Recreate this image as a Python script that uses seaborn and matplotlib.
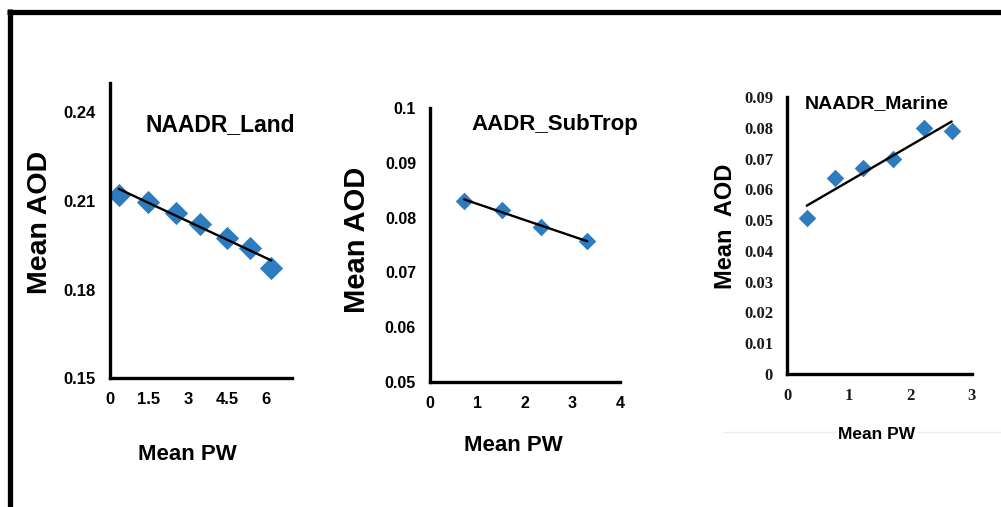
import numpy as np
import pandas as pd
import seaborn as sns
import matplotlib.pyplot as plt
from matplotlib.lines import Line2D

# ---- data ----
land_pw = [0.34, 1.48, 2.55, 3.46, 4.49, 5.40, 6.20]
land_aod = [0.2122, 0.2098, 0.2061, 0.2023, 0.1976, 0.1942, 0.1874]

sub_pw = [0.72, 1.52, 2.34, 3.31]
sub_aod = [0.0831, 0.0814, 0.0783, 0.0757]

mar_pw = [0.32, 0.78, 1.23, 1.72, 2.22, 2.67]
mar_aod = [0.0507, 0.0636, 0.0669, 0.0698, 0.0799, 0.0789]

titles = ["NAADR_Land", "AADR_SubTrop", "NAADR_Marine"]
land_xticks = [0, 1.5, 3, 4.5, 6]
land_xticklabels = ["0", "1.5", "3", "4.5", "6"]
land_yticks = [0.15, 0.18, 0.21, 0.24]
sub_xticks = [0, 1, 2, 3, 4]
sub_yticks = [0.05, 0.06, 0.07, 0.08, 0.09, 0.1]
sub_yticklabels = ["0.05", "0.06", "0.07", "0.08", "0.09", "0.1"]
mar_xticks = [0, 1, 2, 3]
mar_yticks = [0, 0.01, 0.02, 0.03, 0.04, 0.05, 0.06, 0.07, 0.08, 0.09]
mar_yticklabels = ["0", "0.01", "0.02", "0.03", "0.04", "0.05", "0.06", "0.07", "0.08", "0.09"]

sns.set_style("white")
SANS = ["Liberation Sans", "DejaVu Sans"]
SERIF = ["Liberation Serif", "DejaVu Serif"]
plt.rcParams["font.family"] = SANS
plt.rcParams["text.color"] = "black"
plt.rcParams["axes.labelcolor"] = "black"
plt.rcParams["xtick.color"] = "black"
plt.rcParams["ytick.color"] = "black"

BLUE = "#2E7CC0"
W, H = 1001, 507
fig = plt.figure(figsize=(W / 100, H / 100), dpi=100)


def add_ax(left, top, right, bottom):
    return fig.add_axes([left / W, 1 - bottom / H, (right - left) / W, (bottom - top) / H])


def style_ax(ax, tick_family, tick_size, tick_color="black"):
    for s in ["top", "right"]:
        ax.spines[s].set_visible(False)
    for s in ["left", "bottom"]:
        ax.spines[s].set_linewidth(2.4)
        ax.spines[s].set_color("black")
    ax.tick_params(axis="both", direction="out", length=4, width=2, color="black",
                   labelsize=tick_size, pad=6)
    for lab in ax.get_xticklabels() + ax.get_yticklabels():
        lab.set_family(tick_family)
        lab.set_fontweight("bold")
        lab.set_color(tick_color)


def draw(ax, x, y, s):
    df = pd.DataFrame({"pw": x, "aod": y})
    sns.regplot(data=df, x="pw", y="aod", ax=ax, ci=None, marker="D",
                scatter_kws=dict(s=s, color=BLUE, linewidths=0, zorder=2, alpha=1),
                line_kws=dict(color="black", lw=1.7, zorder=3))


WHITE_BOX = dict(facecolor="white", edgecolor="none", pad=1)

# ---- panel 1 ----
ax1 = add_ax(110, 83, 292, 378)
draw(ax1, land_pw, land_aod, 140)
ax1.set_xlim(0, 7)
ax1.set_ylim(0.15, 0.25)
ax1.set_xticks(land_xticks)
ax1.set_xticklabels(land_xticklabels)
ax1.set_yticks(land_yticks)
ax1.set_yticklabels([f"{v:.2f}" for v in land_yticks])
style_ax(ax1, SANS, 12)
ax1.set_xlabel("Mean PW", fontsize=16, fontweight="bold", va="center")
ax1.xaxis.set_label_coords(0.423, -0.261)
ax1.set_ylabel("Mean AOD", fontsize=20.5, fontweight="bold", va="center")
ax1.yaxis.set_label_coords(-0.385, 0.529)
ax1.text(0.604, 0.858, titles[0], transform=ax1.transAxes, ha="center", va="center",
         fontsize=16.5, fontweight="bold")

# ---- panel 2 ----
ax2 = add_ax(430, 108, 620, 382)
draw(ax2, sub_pw, sub_aod, 80)
ax2.set_xlim(0, 4)
ax2.set_ylim(0.05, 0.1)
ax2.set_xticks(sub_xticks)
ax2.set_yticks(sub_yticks)
ax2.set_yticklabels(sub_yticklabels)
style_ax(ax2, SANS, 11.5)
ax2.set_xlabel("Mean PW", fontsize=16, fontweight="bold", va="center")
ax2.xaxis.set_label_coords(0.437, -0.230)
ax2.set_ylabel("Mean AOD", fontsize=21, fontweight="bold", va="center")
ax2.yaxis.set_label_coords(-0.384, 0.518)
ax2.text(0.655, 0.938, titles[1], transform=ax2.transAxes, ha="center", va="center",
         fontsize=16, fontweight="bold")

# ---- panel 3 ----
ax3 = add_ax(787, 97, 972, 374)
draw(ax3, mar_pw, mar_aod, 80)
ax3.set_xlim(0, 3)
ax3.set_ylim(0, 0.09)
ax3.set_xticks(mar_xticks)
ax3.set_yticks(mar_yticks)
ax3.set_yticklabels(mar_yticklabels)
style_ax(ax3, SERIF, 12, tick_color="#1a1a1a")
ax3.set_xlabel("Mean PW", fontsize=12.5, fontweight="bold", va="center", bbox=WHITE_BOX)
ax3.xaxis.set_label_coords(0.486, -0.220)
ax3.set_ylabel("Mean  AOD", fontsize=17, fontweight="bold", va="center")
ax3.yaxis.set_label_coords(-0.33, 0.534)
ax3.text(0.484, 0.975, titles[2], transform=ax3.transAxes, ha="center", va="center",
         fontsize=14, fontweight="bold")

# ---- frame lines (top and left) and faint separator ----
fig.add_artist(Line2D([7 / W, 1.0], [1 - 11.5 / H, 1 - 11.5 / H], color="black", lw=3.8,
                      transform=fig.transFigure, solid_capstyle="butt"))
fig.add_artist(Line2D([9.5 / W, 9.5 / W], [0, 1 - 9 / H], color="black", lw=3.8,
                      transform=fig.transFigure, solid_capstyle="butt"))
fig.add_artist(Line2D([723 / W, 1.0], [1 - 432 / H, 1 - 432 / H], color="#eeeeee", lw=1,
                      transform=fig.transFigure, zorder=-1))

fig.savefig("out.png", dpi=100)
